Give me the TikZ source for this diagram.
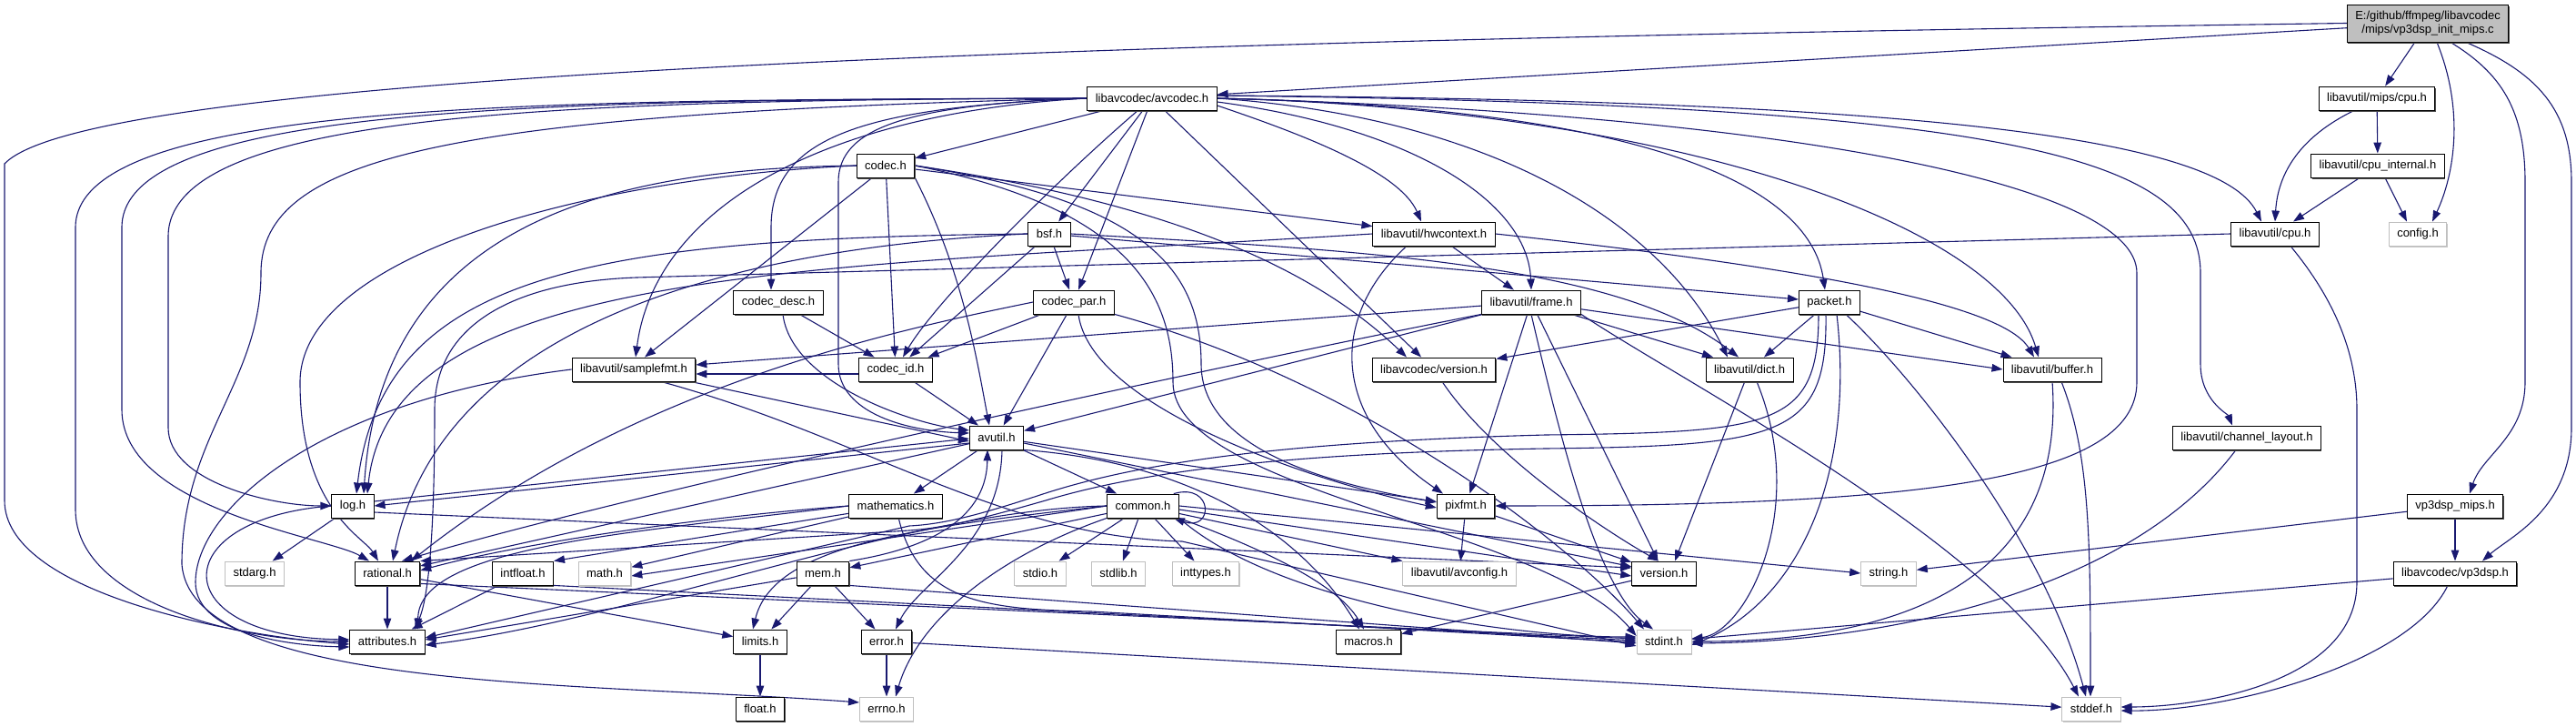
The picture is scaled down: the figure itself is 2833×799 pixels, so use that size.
\documentclass[tikz,border=0pt]{standalone}
\usepackage{fontspec}
\setmainfont{Liberation Sans}
\usetikzlibrary{arrows.meta,shadows}
\definecolor{edgeblue}{RGB}{25,25,112}
\pgfdeclarelayer{background}
\pgfsetlayers{background,main}
\tikzset{
  box/.style={draw=black, fill=white, line width=0.9pt, minimum height=26pt,
    inner xsep=9pt, inner ysep=0pt, font=\fontsize{13}{15}\selectfont},
  hdr/.style={box, drop shadow={shadow xshift=0.8pt, shadow yshift=-1.6pt, fill=black!70, opacity=1}},
  sys/.style={box, draw=black!25, drop shadow={shadow xshift=0.8pt, shadow yshift=-1.6pt, fill=black!22, opacity=1}},
  cur/.style={hdr, fill=black!25, minimum height=41pt, align=center},
  dep/.style={draw=edgeblue, line width=1.1pt, -{Triangle[length=12pt,width=8.5pt]}},
}
\begin{document}
\begin{tikzpicture}[x=1pt, y=1pt]
	\useasboundingbox (0,0) rectangle (2833,-799);
	% Fichero analizado
	\node[cur] (main) at (2670,-25.5) {E:/github/ffmpeg/libavcodec\\/mips/vp3dsp\_init\_mips.c};
	% Cabeceras, fila a fila
	\node[hdr] (avcodec) at (1267,-108) {libavcodec/avcodec.h};
	\node[hdr] (mipscpu) at (2614,-108) {libavutil/mips/cpu.h};
	\node[hdr] (codec) at (974,-182) {codec.h};
	\node[hdr] (cpuint) at (2615,-182) {libavutil/cpu\_internal.h};
	\node[hdr] (bsf) at (1154,-257) {bsf.h};
	\node[hdr] (hwctx) at (1577,-257) {libavutil/hwcontext.h};
	\node[hdr] (cpu) at (2502,-257) {libavutil/cpu.h};
	\node[sys] (config) at (2659,-257) {config.h};
	\node[hdr] (codecdesc) at (856,-332) {codec\_desc.h};
	\node[hdr] (codecpar) at (1181,-332) {codec\_par.h};
	\node[hdr] (frame) at (1684,-332) {libavutil/frame.h};
	\node[hdr] (packet) at (2012,-332) {packet.h};
	\node[hdr] (samplefmt) at (697,-406) {libavutil/samplefmt.h};
	\node[hdr] (codecid) at (985,-406) {codec\_id.h};
	\node[hdr] (lcversion) at (1577,-406) {libavcodec/version.h};
	\node[hdr] (dict) at (1924,-406) {libavutil/dict.h};
	\node[hdr] (buffer) at (2257,-406) {libavutil/buffer.h};
	\node[hdr] (avutil) at (1096,-481) {avutil.h};
	\node[hdr] (chlayout) at (2471,-481) {libavutil/channel\_layout.h};
	\node[hdr] (log) at (388,-556) {log.h};
	\node[hdr] (mathematics) at (985,-556) {mathematics.h};
	\node[hdr] (common) at (1257,-556) {common.h};
	\node[hdr] (pixfmt) at (1612,-556) {pixfmt.h};
	\node[hdr] (vpmips) at (2700,-556) {vp3dsp\_mips.h};
	\node[sys] (stdarg) at (280,-630) {stdarg.h};
	\node[hdr] (rational) at (426,-630) {rational.h};
	\node[hdr] (intfloat) at (575,-630) {intfloat.h};
	\node[sys] (math) at (665,-630) {math.h};
	\node[hdr] (mem) at (905,-630) {mem.h};
	\node[sys] (stdio) at (1144,-630) {stdio.h};
	\node[sys] (stdlib) at (1230,-630) {stdlib.h};
	\node[sys] (inttypes) at (1326,-630) {inttypes.h};
	\node[sys] (avconfig) at (1605,-630) {libavutil/avconfig.h};
	\node[hdr] (version) at (1830,-630) {version.h};
	\node[sys] (string) at (2077,-630) {string.h};
	\node[hdr] (vp3dsp) at (2700,-630) {libavcodec/vp3dsp.h};
	\node[hdr] (attributes) at (426,-705) {attributes.h};
	\node[hdr] (limits) at (836,-705) {limits.h};
	\node[hdr] (error) at (975,-705) {error.h};
	\node[hdr] (macros) at (1505,-705) {macros.h};
	\node[sys] (stdint) at (1830,-705) {stdint.h};
	\node[hdr] (float) at (836,-779) {float.h};
	\node[sys] (errno) at (975,-779) {errno.h};
	\node[sys] (stddef) at (2300,-779) {stddef.h};

	\begin{pgfonlayer}{background}
	% vp3dsp_init_mips.c
	\draw[dep] (main) -- (avcodec);
	\draw[dep] (main.west) .. controls (1200,-45) and (100,-80) .. (5,-180) -- (5,-550) .. controls (5,-650) and (250,-698) .. ([yshift=-3pt]attributes.west);
	\draw[dep] (main) -- (mipscpu);
	\draw[dep] ([xshift=10pt]main.south) .. controls (2710,-120) and (2700,-190) .. ([xshift=16pt]config.north);
	\draw[dep] ([xshift=25pt]main.south) .. controls (2750,-80) and (2777,-120) .. (2777,-200) -- (2777,-420) .. controls (2777,-480) and (2730,-500) .. ([xshift=16pt]vpmips.north);
	\draw[dep] ([xshift=42pt]main.south) .. controls (2790,-80) and (2828,-120) .. (2828,-200) -- (2828,-470) .. controls (2828,-560) and (2760,-590) .. ([xshift=30pt]vp3dsp.north);
	% libavutil/mips/cpu.h y cpu_internal.h
	\draw[dep] (mipscpu) -- (cpuint);
	\draw[dep] ([xshift=-25pt]mipscpu.south) .. controls (2530,-150) and (2505,-190) .. (cpu.north);
	\draw[dep] ([xshift=-20pt]cpuint.south) -- ([xshift=20pt]cpu.north);
	\draw[dep] ([xshift=8pt]cpuint.south) -- ([xshift=-12pt]config.north);
	% libavutil/cpu.h
	\draw[dep] (cpu.west) -- (700,-305) .. controls (560,-310) and (478,-360) .. (478,-450) .. controls (478,-600) and (470,-660) .. ([xshift=30pt]attributes.north);
	\draw[dep] ([xshift=17pt]cpu.south) .. controls (2560,-320) and (2592,-380) .. (2592,-450) -- (2592,-640) .. controls (2592,-750) and (2420,-777) .. ([yshift=2pt]stddef.east);
	% vp3dsp_mips.h y libavcodec/vp3dsp.h
	\draw[dep] (vpmips) -- (string);
	\draw[dep] (vpmips) -- (vp3dsp);
	\draw[dep] (vp3dsp) -- (stdint);
	\draw[dep] ([xshift=-8pt]vp3dsp.south) .. controls (2650,-730) and (2450,-782) .. ([yshift=-2pt]stddef.east);
	% libavcodec/avcodec.h
	\draw[dep] (avcodec) -- (codec);
	\draw[dep] (avcodec) -- (bsf);
	\draw[dep] (avcodec) -- (codecpar);
	\draw[dep] (avcodec) .. controls (1160,-200) and (1030,-330) .. (codecid);
	\draw[dep] (avcodec) -- (lcversion);
	\draw[dep] (avcodec.west) .. controls (1000,-115) and (922,-140) .. (922,-200) -- (922,-400) .. controls (922,-455) and (1000,-474) .. ([yshift=5pt]avutil.west);
	\draw[dep] (avcodec.west) .. controls (950,-118) and (848,-150) .. (848,-250) -- ([xshift=-8pt]codecdesc.north);
	\draw[dep] (avcodec.west) .. controls (900,-125) and (720,-230) .. ([xshift=2pt]samplefmt.north);
	\draw[dep] (avcodec.west) .. controls (600,-110) and (185,-125) .. (185,-260) -- (185,-470) .. controls (185,-530) and (300,-556) .. (log.west);
	\draw[dep] (avcodec.west) .. controls (600,-110) and (134,-115) .. (134,-250) -- (134,-450) .. controls (134,-560) and (360,-590) .. ([xshift=-20pt]rational.north);
	\draw[dep] (avcodec.west) .. controls (600,-110) and (83,-110) .. (83,-250) -- (83,-560) .. controls (83,-660) and (260,-705) .. (attributes.west);
	\draw[dep] (avcodec.west) .. controls (500,-125) and (287,-170) .. (287,-300) .. controls (287,-420) and (200,-480) .. (200,-620) .. controls (210,-760) and (650,-750) .. ([yshift=7pt]errno.west);
	\draw[dep] ([yshift=-8pt]avcodec.east) .. controls (1440,-150) and (1540,-190) .. ([xshift=-14pt]hwctx.north);
	\draw[dep] ([yshift=-4pt]avcodec.east) .. controls (1550,-140) and (1680,-220) .. (frame.north);
	\draw[dep] (avcodec.east) .. controls (1650,-130) and (1830,-250) .. ([xshift=-24pt]dict.north);
	\draw[dep] (avcodec.east) .. controls (1850,-120) and (2200,-250) .. ([xshift=-15pt]buffer.north);
	\draw[dep] (avcodec.east) .. controls (1800,-118) and (1990,-200) .. ([xshift=-5pt]packet.north);
	\draw[dep] ([yshift=3pt]avcodec.east) .. controls (2100,-110) and (2440,-150) .. ([xshift=-15pt]cpu.north);
	\draw[dep] ([yshift=3pt]avcodec.east) .. controls (2200,-115) and (2420,-170) .. (2420,-300) -- (2420,-400) .. controls (2420,-440) and (2450,-455) .. ([xshift=-16pt]chlayout.north);
	\draw[dep] (avcodec.east) .. controls (1950,-125) and (2350,-200) .. (2350,-300) -- (2350,-420) .. controls (2350,-530) and (2100,-556) .. (pixfmt.east);
	% codec.h
	\draw[dep] (codec) -- (hwctx);
	\draw[dep] (codec) -- (codecid);
	\draw[dep] ([xshift=-15pt]codec.south) -- ([xshift=12pt]samplefmt.north);
	\draw[dep] (codec.south east) .. controls (1060,-300) and (1075,-400) .. ([xshift=-8pt]avutil.north);
	\draw[dep] (codec.west) .. controls (700,-185) and (420,-230) .. ([xshift=12pt]log.north);
	\draw[dep] (codec.west) .. controls (650,-195) and (330,-280) .. (330,-420) .. controls (330,-560) and (400,-590) .. ([xshift=-10pt]rational.north);
	\draw[dep] (codec.east) .. controls (1250,-220) and (1321,-290) .. (1321,-400) .. controls (1321,-490) and (1450,-530) .. ([yshift=4pt]pixfmt.west);
	\draw[dep] (codec.east) .. controls (1300,-225) and (1450,-300) .. ([xshift=-30pt]lcversion.north);
	\draw[dep] (codec.east) .. controls (1250,-230) and (1290,-330) .. (1290,-420) .. controls (1290,-540) and (1700,-580) .. ([yshift=6pt]stdint.west);
	% bsf.h
	\draw[dep] (bsf) -- (packet);
	\draw[dep] (bsf.east) .. controls (1500,-275) and (1780,-290) .. ([xshift=-12pt]dict.north);
	\draw[dep] (bsf.west) .. controls (650,-262) and (420,-300) .. ([xshift=4pt]log.north);
	\draw[dep] (bsf.west) .. controls (750,-275) and (480,-380) .. ([xshift=6pt]rational.north);
	\draw[dep] (bsf) -- (codecpar);
	\draw[dep] (bsf) -- (codecid);
	% codec_desc.h y codec_par.h
	\draw[dep] (codecdesc) -- (codecid);
	\draw[dep] ([xshift=5pt]codecdesc.south) .. controls (870,-420) and (1000,-465) .. ([yshift=8pt]avutil.west);
	\draw[dep] (codecpar) -- (codecid);
	\draw[dep] (codecpar) -- (avutil);
	\draw[dep] (codecpar.west) .. controls (1000,-360) and (700,-420) .. ([xshift=-10pt]rational.north east);
	\draw[dep] ([xshift=5pt]codecpar.south) .. controls (1200,-450) and (1450,-530) .. ([yshift=-2pt]pixfmt.west);
	\draw[dep] (codecpar.south east) .. controls (1500,-420) and (1730,-600) .. ([xshift=-22pt]stdint.north);
	% libavutil/hwcontext.h
	\draw[dep] (hwctx.east) .. controls (1950,-290) and (2200,-330) .. ([xshift=-20pt]buffer.north);
	\draw[dep] (hwctx) -- (frame);
	\draw[dep] (hwctx.west) .. controls (900,-295) and (430,-290) .. ([xshift=16pt]log.north);
	\draw[dep] ([xshift=-30pt]hwctx.south) .. controls (1460,-350) and (1465,-460) .. ([xshift=-25pt]pixfmt.north);
	% libavutil/frame.h
	\draw[dep] (frame.south east) .. controls (1850,-420) and (2200,-600) .. ([xshift=-14pt]stddef.north);
	\draw[dep] (frame.south) .. controls (1720,-500) and (1760,-650) .. ([xshift=-12pt]stdint.north);
	\draw[dep] (frame) -- (avutil);
	\draw[dep] (frame) -- (buffer.west);
	\draw[dep] (frame) -- ([xshift=-40pt]dict.north);
	\draw[dep] (frame.south west) .. controls (1350,-400) and (700,-540) .. ([xshift=16pt]rational.north);
	\draw[dep] (frame) -- (samplefmt);
	\draw[dep] (frame) -- (pixfmt);
	\draw[dep] (frame) -- (version);
	% packet.h
	\draw[dep] ([xshift=18pt]packet.south) .. controls (2110,-420) and (2250,-600) .. ([xshift=-6pt]stddef.north);
	\draw[dep] ([xshift=8pt]packet.south) .. controls (2040,-520) and (1980,-660) .. ([yshift=-4pt]stdint.east);
	\draw[dep] ([xshift=-12pt]packet.south) .. controls (2000,-470) and (1950,-475) .. (1700,-478) .. controls (1400,-486) and (1250,-510) .. (1150,-542) .. controls (1080,-565) and (1040,-576) .. (1000,-578) -- ([yshift=4pt]attributes.east);
	\draw[dep] ([xshift=-4pt]packet.south) .. controls (2010,-480) and (1960,-490) .. (1700,-493) .. controls (1400,-498) and (1250,-520) .. (1150,-550) .. controls (1080,-570) and (1040,-580) .. (1000,-583) -- (rational.north east);
	\draw[dep] (packet) -- (buffer);
	\draw[dep] (packet) -- (dict);
	\draw[dep] (packet) -- (lcversion);
	% libavutil/dict.h, buffer.h, channel_layout.h
	\draw[dep] ([xshift=8pt]dict.south) .. controls (1990,-560) and (1920,-695) .. ([yshift=3pt]stdint.east);
	\draw[dep] (dict) -- ([xshift=12pt]version.north);
	\draw[dep] (buffer.south) .. controls (2270,-600) and (2150,-705) .. (stdint.east);
	\draw[dep] ([xshift=10pt]buffer.south) .. controls (2299,-500) and (2299,-600) .. ([xshift=-1pt]stddef.north);
	\draw[dep] ([xshift=-12pt]chlayout.south) .. controls (2350,-640) and (2100,-705) .. ([yshift=-2pt]stdint.east);
	% libavcodec/version.h
	\draw[dep] (lcversion) .. controls (1640,-500) and (1760,-580) .. ([xshift=-6pt]version.north);
	% libavutil/samplefmt.h y codec_id.h
	\draw[dep] (samplefmt) -- ([yshift=-4pt]avutil.west);
	\draw[dep] (samplefmt.west) .. controls (350,-440) and (215,-560) .. (215,-640) .. controls (215,-700) and (330,-710) .. ([yshift=-6pt]attributes.west);
	\draw[dep] ([xshift=30pt]samplefmt.south) .. controls (950,-480) and (1100,-590) .. (1300,-595) -- ([yshift=-5pt]stdint.west);
	\draw[dep] (codecid) -- ([xshift=-20pt]avutil.north);
	\draw[dep] ([yshift=-5pt]codecid.west) -- ([yshift=-5pt]samplefmt.east);
	% avutil.h
	\draw[dep] (avutil) -- (common);
	\draw[dep] ([xshift=6pt]avutil.south) .. controls (1100,-600) and (1010,-640) .. ([xshift=10pt]error.north);
	\draw[dep] (avutil) -- (rational);
	\draw[dep] (avutil) -- (version);
	\draw[dep] (avutil.south east) .. controls (1330,-510) and (1440,-600) .. ([xshift=-10pt]macros.north);
	\draw[dep] (avutil) -- (mathematics);
	\draw[dep] ([yshift=-6pt]avutil.west) -- (log.east);
	\draw[dep] (avutil) -- (pixfmt);
	% log.h
	\draw[dep] (log) -- (stdarg);
	\draw[dep] ([yshift=5pt]log.east) -- ([yshift=-1pt]avutil.west);
	\draw[dep] (log.west) .. controls (180,-570) and (180,-700) .. ([yshift=2pt]attributes.west);
	\draw[dep] ([yshift=-7pt]log.east) -- ([yshift=6pt]version.west);
	% rational.h, intfloat.h, mathematics.h
	\draw[dep] ([yshift=2pt]rational.south east) -- ([yshift=3pt]stdint.west);
	\draw[dep] (rational) -- (limits);
	\draw[dep] (rational) -- (attributes);
	\draw[dep] (intfloat) -- (attributes);
	\draw[dep] (intfloat.south east) -- ([yshift=1pt]stdint.west);
	\draw[dep] (mathematics) .. controls (1010,-660) and (1080,-670) .. (1200,-672) -- ([yshift=-1pt]stdint.west);
	\draw[dep] (mathematics) -- (math);
	\draw[dep] (mathematics.west) .. controls (700,-585) and (460,-600) .. ([xshift=-8pt]attributes.north east);
	\draw[dep] (mathematics.west) .. controls (750,-570) and (560,-600) .. ([yshift=3pt]rational.east);
	\draw[dep] (mathematics) -- (intfloat.north east);
	% common.h
	\draw[dep] (common.south west) .. controls (1100,-610) and (1010,-680) .. ([xshift=10pt]errno.north);
	\draw[dep] (common) -- (inttypes);
	\draw[dep] (common.west) .. controls (1000,-580) and (850,-600) .. ([xshift=-8pt]limits.north);
	\draw[dep] (common.west) -- ([yshift=-3pt]math.east);
	\draw[dep] (common.south east) .. controls (1400,-660) and (1650,-700) .. ([yshift=5pt]stdint.west);
	\draw[dep] (common) -- (stdio);
	\draw[dep] (common) -- (stdlib);
	\draw[dep] (common.east) -- (string.west);
	\draw[dep] (common.west) .. controls (1000,-560) and (700,-680) .. ([yshift=-4pt]attributes.east);
	\draw[dep] (common.south east) .. controls (1380,-600) and (1470,-640) .. ([xshift=-5pt]macros.north);
	\draw[dep] ([yshift=-4pt]common.east) -- ([yshift=-3pt]version.west);
	\draw[dep] (common) -- (avconfig);
	\draw[dep] ([xshift=-6pt]common.north east) .. controls (1335,-530) and (1335,-585) .. ([xshift=-6pt]common.south east);
	\draw[dep] (common) -- (mem);
	% mem.h, error.h
	\draw[dep] (mem) -- (limits);
	\draw[dep] (mem.south east) -- ([yshift=-2pt]stdint.west);
	\draw[dep] (mem) -- ([yshift=2pt]attributes.east);
	\draw[dep] (mem) -- (error);
	\draw[dep] (mem.north east) .. controls (1040,-600) and (1085,-560) .. ([xshift=-10pt]avutil.south);
	\draw[dep] (error) -- (errno);
	\draw[dep] (error) -- (stddef);
	% version.h, pixfmt.h, limits.h
	\draw[dep] (version) -- (macros);
	\draw[dep] (pixfmt) -- (avconfig);
	\draw[dep] (pixfmt) -- (version);
	\draw[dep] (limits) -- (float);
	\end{pgfonlayer}
\end{tikzpicture}
\end{document}
